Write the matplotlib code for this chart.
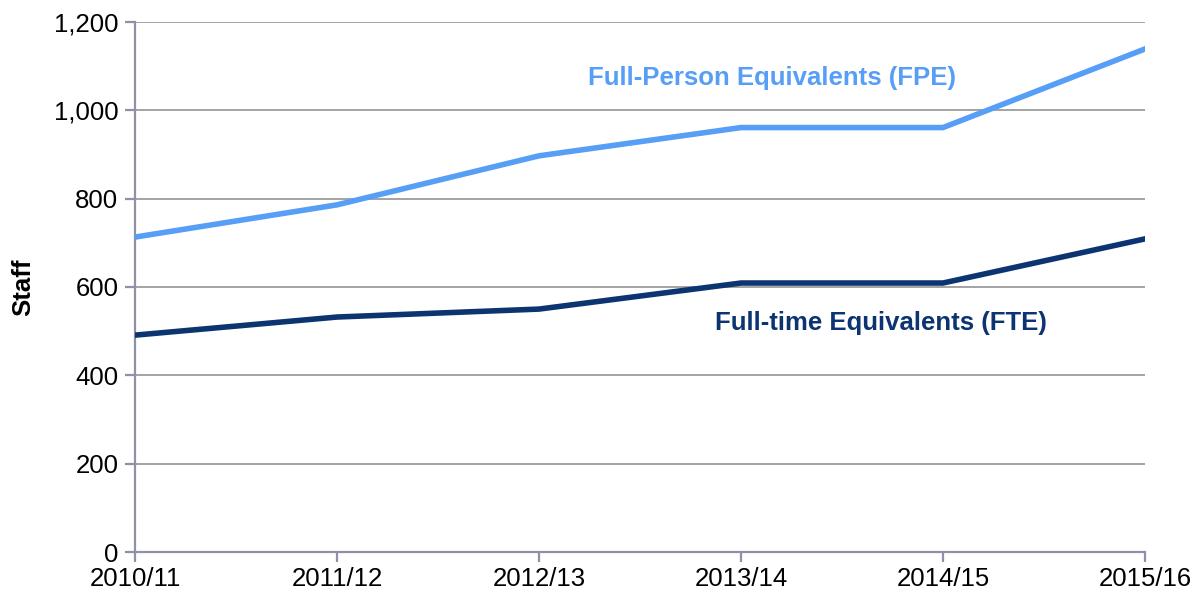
import matplotlib.pyplot as plt
from matplotlib.ticker import FuncFormatter

plt.rcParams['font.family'] = ['Liberation Sans', 'DejaVu Sans']

# data
years = ["2010/11", "2011/12", "2012/13", "2013/14", "2014/15", "2015/16"]
fpe = [713, 786, 897, 961, 961, 1139]
fte = [491, 532, 550, 609, 609, 709]

fpe_color = "#569EF6"
fte_color = "#0B3470"
axis_color = "#8E91A8"

fig = plt.figure(figsize=(11.96, 5.95), dpi=100)
ax = fig.add_axes([135 / 1196, 1 - 552 / 595, (1145 - 135) / 1196, (552 - 22) / 595])

x = range(len(years))
ax.plot(x, fpe, color=fpe_color, lw=4, solid_joinstyle="miter", zorder=3)
ax.plot(x, fte, color=fte_color, lw=4, solid_joinstyle="miter", zorder=3)

ax.set_xlim(0, len(years) - 1)
ax.set_ylim(0, 1200)
ax.set_yticks(range(0, 1201, 200))
ax.yaxis.set_major_formatter(FuncFormatter(lambda v, p: f"{int(v):,}"))
ax.set_xticks(list(x))
ax.set_xticklabels(years)

ax.grid(axis="y", color="#A3A3A3", lw=1.4, zorder=1)
ax.set_axisbelow(True)
for s in ["top", "right"]:
    ax.spines[s].set_visible(False)
for s in ["left", "bottom"]:
    ax.spines[s].set_color(axis_color)
    ax.spines[s].set_linewidth(1.6)

ax.tick_params(axis="both", colors=axis_color, labelcolor="black", labelsize=18.5,
               length=7, width=1.6, direction="out")
ax.tick_params(axis="x", pad=4)
ax.tick_params(axis="y", pad=5)

ax.set_ylabel("Staff", fontsize=18.5, fontweight="bold", labelpad=13)

ax.text(2.243, 1073, "Full-Person Equivalents (FPE)", color=fpe_color, fontsize=18.5,
        fontweight="bold", ha="left", va="center")
ax.text(2.871, 518, "Full-time Equivalents (FTE)", color=fte_color, fontsize=18.5,
        fontweight="bold", ha="left", va="center")

fig.savefig("out.png", dpi=100)
